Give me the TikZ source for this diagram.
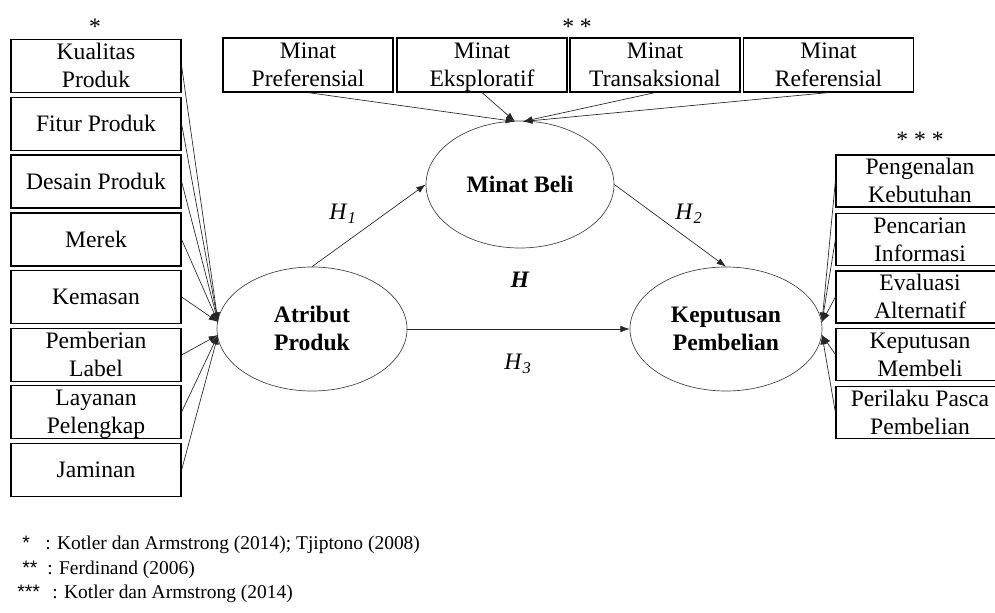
\documentclass[tikz,border=0pt]{standalone}
\usepackage{fontspec}
\setmainfont{Liberation Serif}
\newfontfamily\starfont{Liberation Sans}
\usetikzlibrary{shapes.geometric,arrows.meta}
\newcommand{\tline}[1]{\rule{0pt}{11.7pt}\smash{#1}}
\begin{document}
\begin{tikzpicture}[x=0.75pt,y=-0.75pt,
  box/.style={draw=black,line width=0.9pt,rectangle,inner sep=0pt,align=center,
    font=\fontsize{17.7}{21}\selectfont},
  lbox/.style={box,minimum width=127.5pt,minimum height=39.75pt},
  tbox/.style={box,minimum width=127.5pt,minimum height=40.5pt},
  rbox/.style={box,minimum width=126pt,minimum height=39pt},
  lat/.style={draw=black!75,line width=0.5pt,ellipse,inner sep=0pt,align=center,
    font=\fontsize{17.7}{21}\selectfont\bfseries},
  con/.style={draw=black!85,line width=0.5pt,-{Latex[length=7pt,width=5pt]}},
  lbl/.style={font=\fontsize{17.7}{20.3}\selectfont,inner sep=0pt},
  leg/.style={font=\fontsize{14.6}{17}\selectfont,inner sep=0pt,anchor=base west},
  legstar/.style={font=\fontsize{14.6}{17}\starfont,inner sep=0pt,anchor=base west}]
\useasboundingbox (0,0) rectangle (995,613);

% left boxes
\node[lbox] (k1) at (96,66) {\tline{Kualitas}\\\tline{Produk}};
\node[lbox] (k2) at (96,124) {\tline{Fitur Produk}};
\node[lbox] (k3) at (96,181.5) {\tline{Desain Produk}};
\node[lbox] (k4) at (96,239.5) {\tline{Merek}};
\node[lbox] (k5) at (96,297) {\tline{Kemasan}};
\node[lbox] (k6) at (96,355) {\tline{Pemberian}\\\tline{Label}};
\node[lbox] (k7) at (96,412) {\tline{Layanan}\\\tline{Pelengkap}};
\node[lbox] (k8) at (96,470) {\tline{Jaminan}};

% top boxes
\node[tbox] (m1) at (308,65) {\tline{Minat}\\\tline{Preferensial}};
\node[tbox] (m2) at (482,65) {\tline{Minat}\\\tline{Eksploratif}};
\node[tbox] (m3) at (655,65) {\tline{Minat}\\\tline{Transaksional}};
\node[tbox] (m4) at (828.5,65) {\tline{Minat}\\\tline{Referensial}};

% right boxes
\node[rbox] (p1) at (920,181) {\tline{Pengenalan}\\\tline{Kebutuhan}};
\node[rbox] (p2) at (920,239.5) {\tline{Pencarian}\\\tline{Informasi}};
\node[rbox] (p3) at (920,297) {\tline{Evaluasi}\\\tline{Alternatif}};
\node[rbox] (p4) at (920,354.5) {\tline{Keputusan}\\\tline{Membeli}};
\node[rbox] (p5) at (920,412.5) {\tline{Perilaku Pasca}\\\tline{Pembelian}};

% latent variables
\node[lat,minimum width=142.5pt,minimum height=93pt] (atr) at (312,329) {\tline{Atribut}\\\tline{Produk}};
\node[lat,minimum width=141pt,minimum height=95.25pt] (mb) at (520,184.5) {\tline{Minat Beli}};
\node[lat,minimum width=144pt,minimum height=93pt] (kp) at (726,329) {\tline{Keputusan}\\\tline{Pembelian}};

% arrow tip points
\coordinate (aU) at (218,322);
\coordinate (aL) at (218,335);
\coordinate (mL) at (515,121.5);
\coordinate (mR) at (523,121.5);
\coordinate (kU) at (822,322);
\coordinate (kL) at (822,335);

\foreach \n in {k1,k2,k3,k4,k5} \draw[con] (\n.east) -- (aU);
\foreach \n in {k6,k7,k8} \draw[con] (\n.east) -- (aL);
\foreach \n in {m1,m2} \draw[con] (\n.south) -- (mL);
\foreach \n in {m3,m4} \draw[con] (\n.south) -- (mR);
\foreach \n in {p1,p2,p3} \draw[con] (\n.west) -- (kU);
\foreach \n in {p4,p5} \draw[con] (\n.west) -- (kL);

\draw[con] (atr.north) -- (mb.west);
\draw[con] (mb.east) -- (kp.north);
\draw[con] (atr.east) -- (kp.west);

% hypothesis labels
\node[lbl] (h1) at (343,214) {\textit{H}\textsubscript{\textit{1}}};
\node[lbl] (h2) at (689,214) {\textit{H}\textsubscript{\textit{2}}};
\node[lbl] (h) at (520,280) {\textbf{\textit{H}}};
\node[lbl] (h3) at (518,364) {\textit{H}\textsubscript{\textit{3}}};

% stars
\node[lbl,anchor=base] (s1) at (95,35) {*};
\node[lbl,anchor=base] (s2) at (577,35) {* *};
\node[lbl,anchor=base] (s3) at (920,147) {* * *};

% legend
\node[legstar] (l1s) at (22,549) {*};
\node[leg] (l1) at (45,549) {: Kotler dan Armstrong (2014); Tjiptono (2008)};
\node[legstar] (l2s) at (22,574) {**};
\node[leg] (l2) at (47,574) {: Ferdinand (2006)};
\node[legstar] (l3s) at (17,598) {***};
\node[leg] (l3) at (52,598) {: Kotler dan Armstrong (2014)};
\end{tikzpicture}
\end{document}
